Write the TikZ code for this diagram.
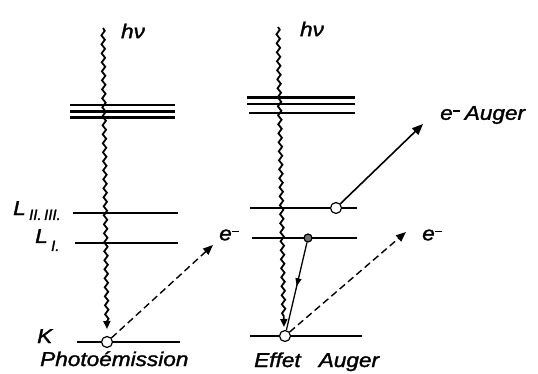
\documentclass[tikz,border=0pt]{standalone}
\usepackage{fontspec}
\setmainfont{Liberation Sans}[FakeBold=1.5]
\usetikzlibrary{decorations.pathmorphing,decorations.markings,arrows.meta}
\newcommand{\widetxt}[1]{\scalebox{1.13}[1]{#1}}
\newcommand{\supminus}{\raisebox{8pt}{\rule{7pt}{1.6pt}}}
\tikzset{
  level/.style={line width=2.1pt},
  hole/.style={circle,draw,fill=white,line width=1.2pt,minimum size=11pt,inner sep=0pt},
  filled/.style={circle,draw,fill=black!55,line width=1.2pt,minimum size=8pt,inner sep=0pt},
  wave/.style={line width=1.8pt,decorate,decoration={snake,segment length=9pt,amplitude=1.7pt,post length=7pt},-{Triangle[length=8pt,width=7pt]}},
  ejdash/.style={line width=1.4pt,dash pattern=on 7pt off 4pt,-{Triangle[length=10pt,width=8pt]}},
  ejsolid/.style={line width=1.6pt,-{Triangle[length=11pt,width=9pt]}},
  txt/.style={font=\fontsize{20}{24}\selectfont\itshape,inner sep=0pt},
  midarrow/.style={line width=1.3pt,decoration={markings,mark=at position 0.5 with {\arrow{Triangle[length=8pt,width=6pt]}}},postaction={decorate}}
}
\begin{document}
\begin{tikzpicture}[x=1pt,y=-1pt]
\useasboundingbox (0,0) rectangle (538,374);
% ---- left panel levels
\draw[level] (70,105) -- (175,105);
\draw[level] (70,111.5) -- (175,111.5);
\draw[level] (70,117.5) -- (175,117.5);
\draw[level] (73,213) -- (178,213);
\draw[level] (75,243) -- (178,243);
\draw[level] (77,342) -- (180,342);
% ---- right panel levels
\draw[level] (247,97.5) -- (355,97.5);
\draw[level] (247,104) -- (355,104);
\draw[level] (249,113) -- (355,113);
\draw[level] (250,208) -- (357,208);
\draw[level] (252,238) -- (357,238);
\draw[level] (250,336) -- (362,336);
% ---- nodes
\node[hole] (k1) at (107,342) {};
\node[hole] (k2) at (285,336) {};
\node[hole] (l23) at (336,208) {};
\node[filled] (l1) at (308,238) {};
\coordinate (w1top) at (103,28);
\coordinate (w1end) at (107,329);
\coordinate (w2top) at (278,27);
\coordinate (w2end) at (284,327);
\coordinate (e1) at (213,245);
\coordinate (e2) at (406,232);
\coordinate (ea) at (423,124);
% ---- texts
\node[txt] (hv1) at (133,31) {\widetxt{hν}};
\node[txt] (hv2) at (312,29) {\widetxt{hν}};
\node[txt,anchor=base west] (L23) at (13,215) {\widetxt{L}\,{\fontsize{15}{16}\selectfont\raisebox{-5pt}{II.\,III.}}};
\node[txt,anchor=base west] (L1) at (35,243) {\widetxt{L}\,{\fontsize{15}{16}\selectfont\raisebox{-8pt}{I.}}};
\node[txt,anchor=base west] (Kl) at (37,343) {\widetxt{K}};
\node[txt,anchor=base west] (ph) at (40,366) {\widetxt{Photoémission}};
\node[txt,anchor=base west] (ef) at (254,367) {\widetxt{Effet\hspace{16pt}Auger}};
\node[txt] (em1) at (229,235) {\widetxt{e}\supminus};
\node[txt] (em2) at (432,235) {\widetxt{e}\supminus};
\node[txt,anchor=west] (ema) at (440,115) {\widetxt{e}\supminus\hspace{5pt}\widetxt{Auger}};
% ---- connectors
\draw[wave] (w1top) -- (w1end);
\draw[wave] (w2top) -- (w2end);
\draw[ejdash] (k1) -- (e1);
\draw[ejdash] (k2) -- (e2);
\draw[ejsolid] (l23) -- (ea);
\draw[midarrow] (l1) -- (k2);
\end{tikzpicture}
\end{document}
